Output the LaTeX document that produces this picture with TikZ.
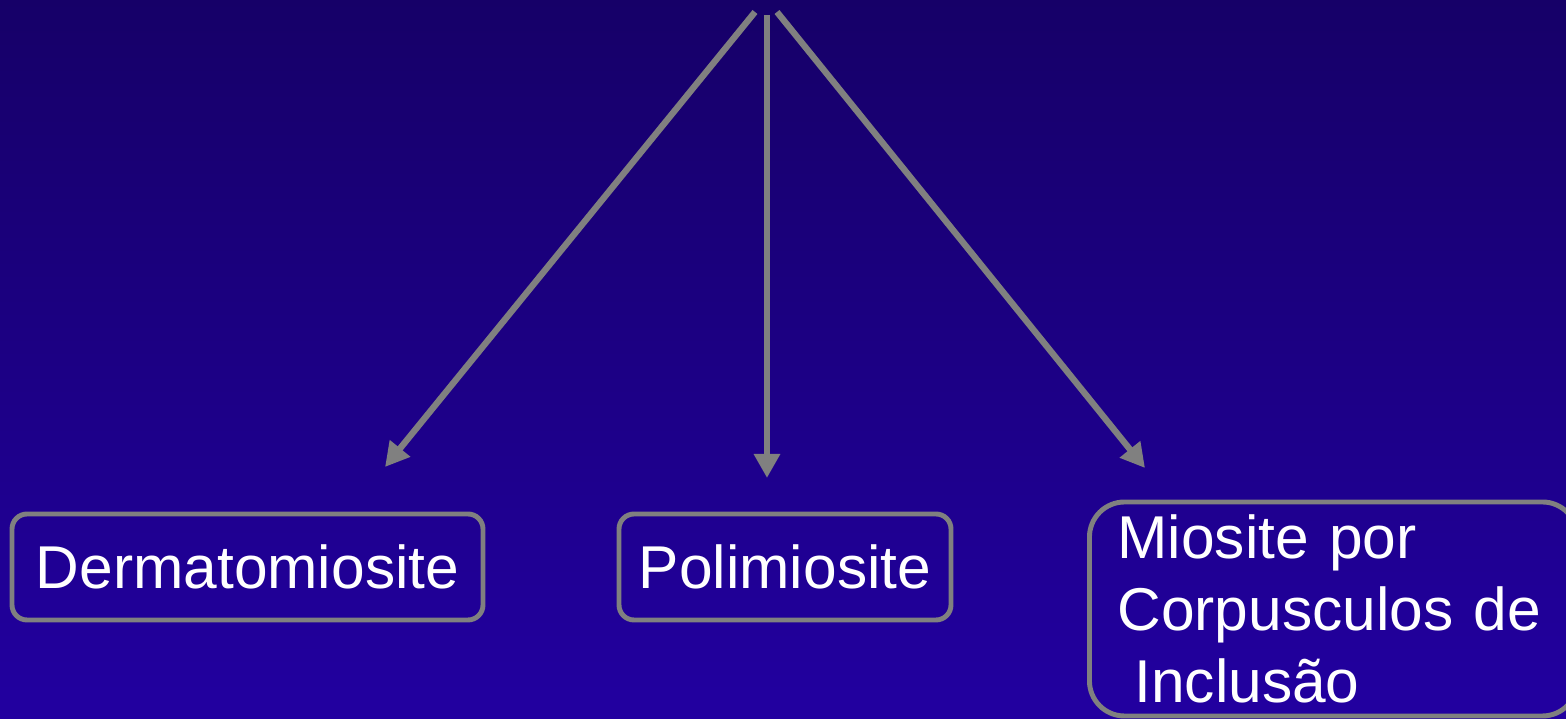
\documentclass[tikz,border=0pt]{standalone}
\usepackage{fontspec}
\setmainfont{Liberation Sans}
\usetikzlibrary{arrows.meta}
\definecolor{bgtop}{RGB}{22,0,104}
\definecolor{bgbottom}{RGB}{34,0,160}
\definecolor{linegray}{RGB}{128,128,128}
\begin{document}
\begin{tikzpicture} [
                myosite/.style={draw=linegray,line width=1.4pt,text=white,
                    font=\fontsize{17.2pt}{20.6pt}\selectfont,inner sep=0pt},
                branch/.style = {draw=linegray,line width=1.8pt,
                    -{Triangle[length=0.24cm,width=0.25cm]}},
            ]
            % Frame and background
            \useasboundingbox (0,0) rectangle (15.66,7.19);
            \clip (0,0) rectangle (15.66,7.19);
            \shade[top color=bgtop,bottom color=bgbottom] (0,0) rectangle (15.66,7.19);
            % The three kinds of myositis
            \node[myosite,rounded corners=0.15cm,minimum width=4.71cm,minimum height=1.06cm]
                (dm) at (2.475,1.52) {Dermatomiosite};
            \node[myosite,rounded corners=0.15cm,minimum width=3.32cm,minimum height=1.06cm]
                (pm) at (7.85,1.52) {Polimiosite};
            \node[myosite,rounded corners=0.35cm,anchor=west,inner xsep=0.28cm,
                text width=4.32cm,align=left,minimum height=2.14cm]
                (ibm) at (10.87,1.10) {Miosite por\\Corpusculos de\\\hspace*{0.17cm}Inclusão};
            % Start and end points of the arrows
            \coordinate (dm-start) at (7.55,7.07);
            \coordinate (pm-start) at (7.67,7.04);
            \coordinate (ibm-start) at (7.77,7.07);
            \coordinate (dm-tip) at (3.85,2.52);
            \coordinate (pm-tip) at (7.67,2.41);
            \coordinate (ibm-tip) at (11.45,2.51);
            % Arrows down to the boxes
            \foreach \kind in {dm,pm,ibm}
                \path[branch] (\kind-start) -- (\kind-tip);
        \end{tikzpicture}
\end{document}
